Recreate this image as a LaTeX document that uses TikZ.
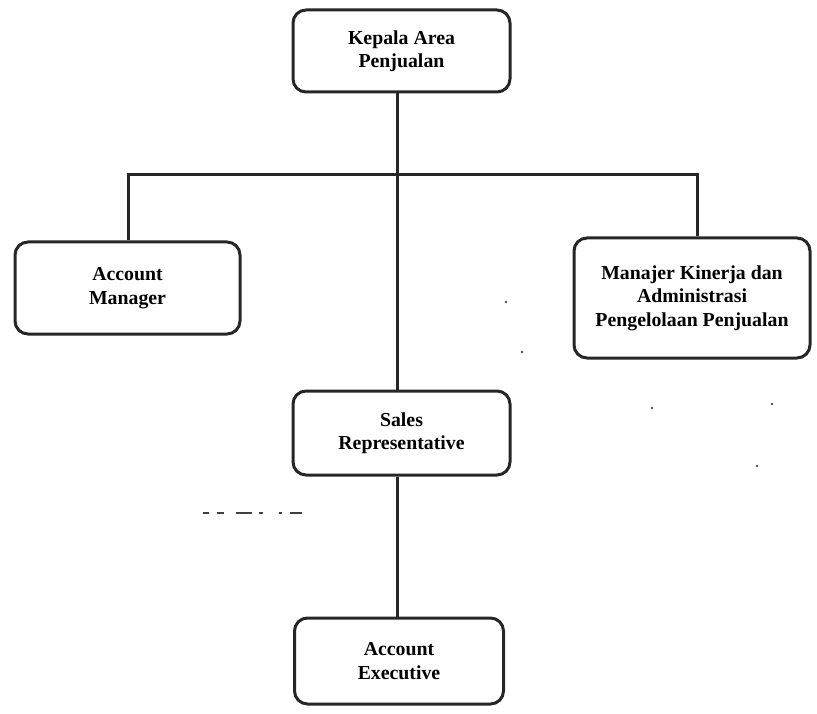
\documentclass[tikz,border=0pt]{standalone}
\usepackage{fontspec}
\setmainfont{Liberation Serif}
\begin{document}
\begin{tikzpicture}[x=1pt,y=-1pt,
  orgbox/.style={draw=black!85, line width=3pt, rounded corners=13pt, align=center,
    font=\fontsize{19.8}{23.5}\selectfont\bfseries, inner sep=0pt},
  link/.style={draw=black!85, line width=3pt},
  speck/.style={fill=black!70}]
\useasboundingbox (0,0) rectangle (817,714);
\node[orgbox, minimum width=217pt, minimum height=82pt] (kepala) at (401.5,51) {Kepala Area\\Penjualan};
\node[orgbox, minimum width=225pt, minimum height=92pt] (am) at (127.5,288) {Account\\Manager};
\node[orgbox, minimum width=236pt, minimum height=120pt] (mk) at (692,298) {Manajer Kinerja dan\\Administrasi\\Pengelolaan Penjualan};
\node[orgbox, minimum width=217pt, minimum height=84pt] (sales) at (401.5,433) {Sales\\Representative};
\node[orgbox, minimum width=209pt, minimum height=86pt] (ae) at (399,661) {Account\\Executive};
\coordinate (hl) at (128,175);
\coordinate (hm) at (397,175);
\coordinate (hr) at (697,175);
\draw[link] (kepala.south -| hm) -- (sales.north -| hm);
\draw[link] (am.north -| hl) -- (hl) -- (hr) -- (mk.north -| hr);
\draw[link] (sales.south -| hm) -- (ae.north -| hm);
% scan specks
\draw[black!75, line width=1.6pt] (203,513) -- (209,513) (217,513) -- (224,513) (236,513) -- (252,513)
  (259,513) -- (263,513) (279,513) -- (282,513) (290,513) -- (302,513);
\fill[speck] (506,302) circle (1.3pt) (522,352) circle (1.3pt) (652,408) circle (1.3pt)
  (772,404) circle (1.3pt) (757,466) circle (1.3pt);
\end{tikzpicture}
\end{document}
